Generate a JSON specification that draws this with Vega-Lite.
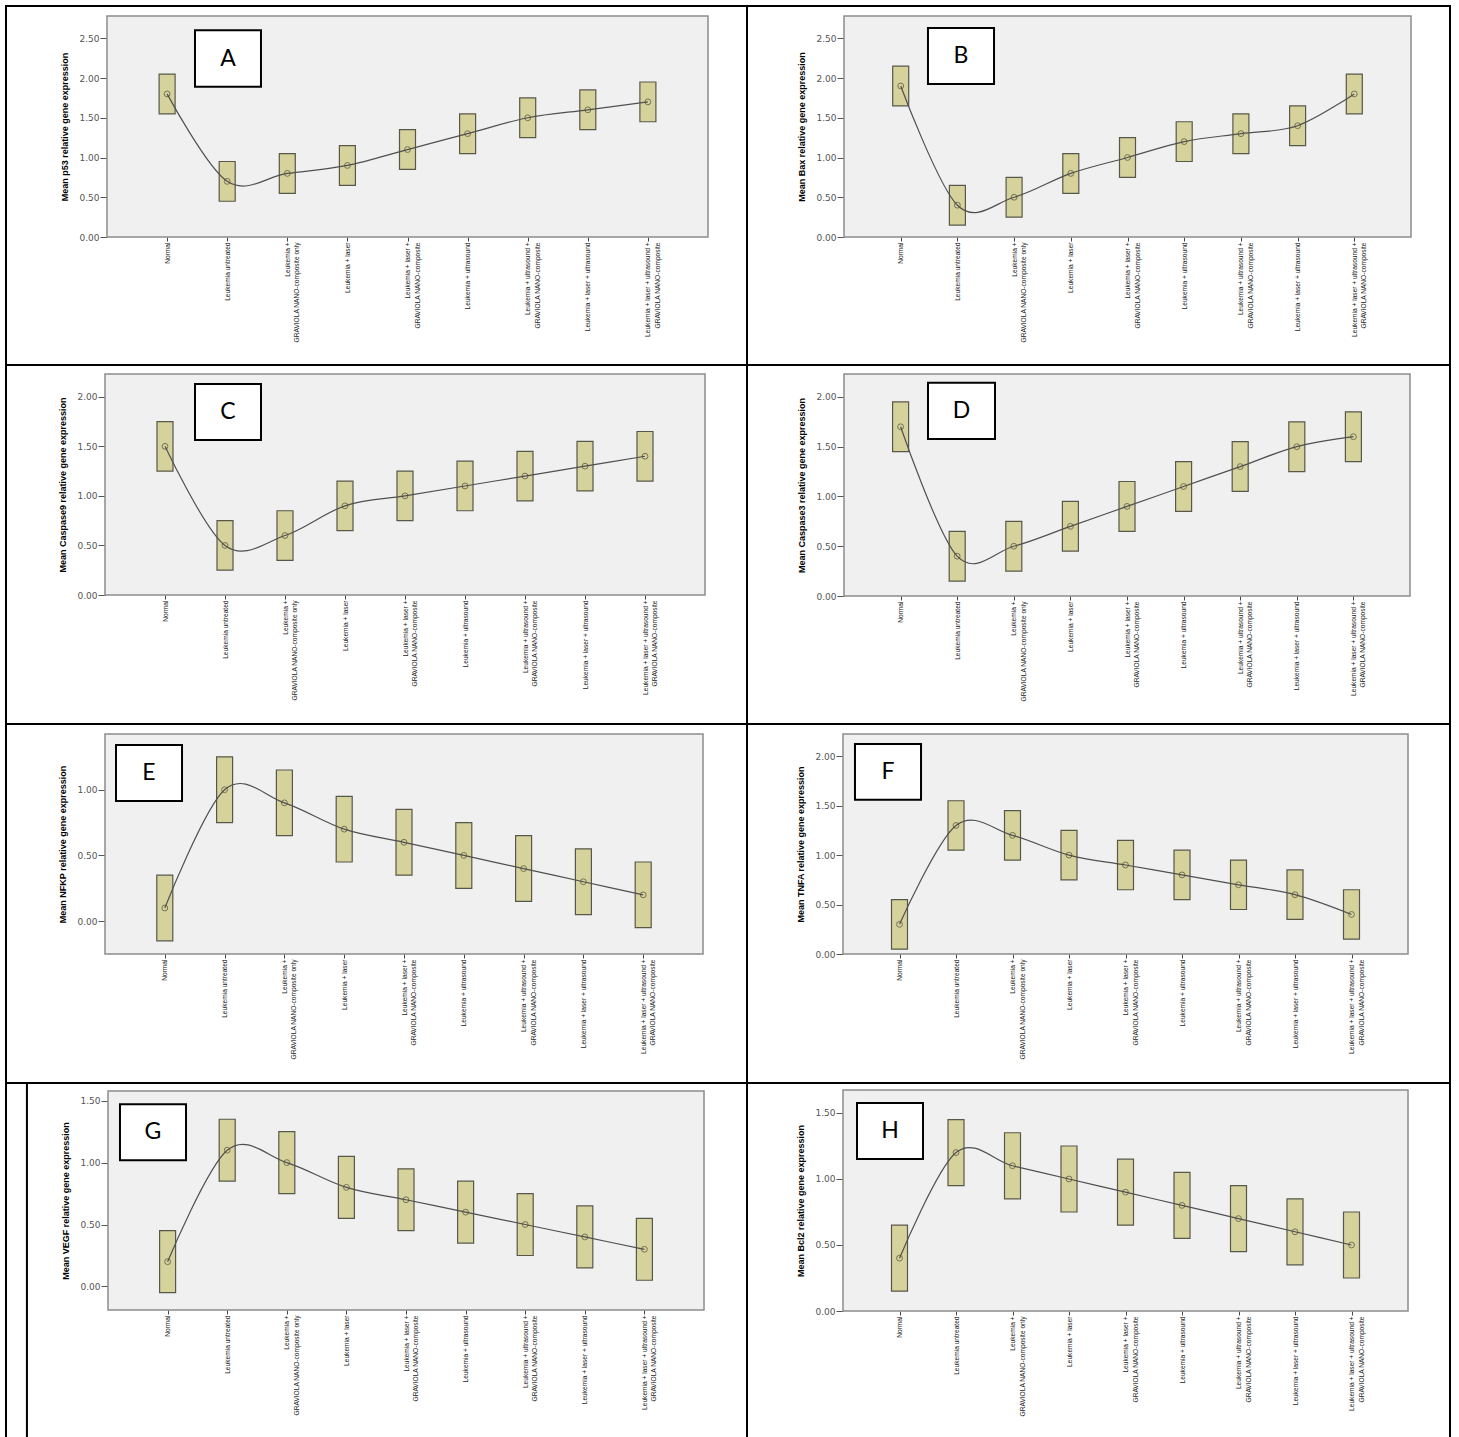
{
  "$schema": "https://vega.github.io/schema/vega-lite/v6.json",
  "padding": {"left": 5, "top": 5, "right": 0, "bottom": 0},
  "background": "white",
  "columns": 2,
  "spacing": 0,
  "bounds": "flush",
  "config": {
    "view": {"stroke": "black", "strokeWidth": 2, "fill": "white"},
    "axisX": {"orient": "bottom", "domain": false, "grid": false, "tickSize": 4, "tickColor": "#444", "labelAngle": -90, "labelAlign": "right", "labelBaseline": "middle", "labelFont": "Liberation Sans", "labelFontSize": 6.6, "labelColor": "#1a1a1a", "labelPadding": 1, "labelLimit": 0, "labelOverlap": false, "labelLineHeight": 9.5},
    "axisY": {"orient": "left", "domain": false, "grid": false, "tickSize": 7, "tickColor": "#555", "labelFont": "DejaVu Sans", "labelFontSize": 9, "labelColor": "#555", "labelPadding": 1, "titleFont": "Liberation Sans", "titleFontSize": 9, "titleFontWeight": "bold", "titleColor": "#000", "titlePadding": 9}
  },
  "datasets": {
    "expr": [
      {"panel": "A", "group": "Normal", "mean": 1.8, "lo": 1.55, "hi": 2.05},
      {"panel": "A", "group": "Leukemia untreated", "mean": 0.7, "lo": 0.45, "hi": 0.95},
      {"panel": "A", "group": "Leukemia + GRAVIOLA NANO-composite only", "mean": 0.8, "lo": 0.55, "hi": 1.05},
      {"panel": "A", "group": "Leukemia + laser", "mean": 0.9, "lo": 0.65, "hi": 1.15},
      {"panel": "A", "group": "Leukemia + laser + GRAVIOLA NANO-composite", "mean": 1.1, "lo": 0.85, "hi": 1.35},
      {"panel": "A", "group": "Leukemia + ultrasound", "mean": 1.3, "lo": 1.05, "hi": 1.55},
      {"panel": "A", "group": "Leukemia + ultrasound + GRAVIOLA NANO-composite", "mean": 1.5, "lo": 1.25, "hi": 1.75},
      {"panel": "A", "group": "Leukemia + laser + ultrasound", "mean": 1.6, "lo": 1.35, "hi": 1.85},
      {"panel": "A", "group": "Leukemia + laser + ultrasound + GRAVIOLA NANO-composite", "mean": 1.7, "lo": 1.45, "hi": 1.95},
      {"panel": "B", "group": "Normal", "mean": 1.9, "lo": 1.65, "hi": 2.15},
      {"panel": "B", "group": "Leukemia untreated", "mean": 0.4, "lo": 0.15, "hi": 0.65},
      {"panel": "B", "group": "Leukemia + GRAVIOLA NANO-composite only", "mean": 0.5, "lo": 0.25, "hi": 0.75},
      {"panel": "B", "group": "Leukemia + laser", "mean": 0.8, "lo": 0.55, "hi": 1.05},
      {"panel": "B", "group": "Leukemia + laser + GRAVIOLA NANO-composite", "mean": 1.0, "lo": 0.75, "hi": 1.25},
      {"panel": "B", "group": "Leukemia + ultrasound", "mean": 1.2, "lo": 0.95, "hi": 1.45},
      {"panel": "B", "group": "Leukemia + ultrasound + GRAVIOLA NANO-composite", "mean": 1.3, "lo": 1.05, "hi": 1.55},
      {"panel": "B", "group": "Leukemia + laser + ultrasound", "mean": 1.4, "lo": 1.15, "hi": 1.65},
      {"panel": "B", "group": "Leukemia + laser + ultrasound + GRAVIOLA NANO-composite", "mean": 1.8, "lo": 1.55, "hi": 2.05},
      {"panel": "C", "group": "Normal", "mean": 1.5, "lo": 1.25, "hi": 1.75},
      {"panel": "C", "group": "Leukemia untreated", "mean": 0.5, "lo": 0.25, "hi": 0.75},
      {"panel": "C", "group": "Leukemia + GRAVIOLA NANO-composite only", "mean": 0.6, "lo": 0.35, "hi": 0.85},
      {"panel": "C", "group": "Leukemia + laser", "mean": 0.9, "lo": 0.65, "hi": 1.15},
      {"panel": "C", "group": "Leukemia + laser + GRAVIOLA NANO-composite", "mean": 1.0, "lo": 0.75, "hi": 1.25},
      {"panel": "C", "group": "Leukemia + ultrasound", "mean": 1.1, "lo": 0.85, "hi": 1.35},
      {"panel": "C", "group": "Leukemia + ultrasound + GRAVIOLA NANO-composite", "mean": 1.2, "lo": 0.95, "hi": 1.45},
      {"panel": "C", "group": "Leukemia + laser + ultrasound", "mean": 1.3, "lo": 1.05, "hi": 1.55},
      {"panel": "C", "group": "Leukemia + laser + ultrasound + GRAVIOLA NANO-composite", "mean": 1.4, "lo": 1.15, "hi": 1.65},
      {"panel": "D", "group": "Normal", "mean": 1.7, "lo": 1.45, "hi": 1.95},
      {"panel": "D", "group": "Leukemia untreated", "mean": 0.4, "lo": 0.15, "hi": 0.65},
      {"panel": "D", "group": "Leukemia + GRAVIOLA NANO-composite only", "mean": 0.5, "lo": 0.25, "hi": 0.75},
      {"panel": "D", "group": "Leukemia + laser", "mean": 0.7, "lo": 0.45, "hi": 0.95},
      {"panel": "D", "group": "Leukemia + laser + GRAVIOLA NANO-composite", "mean": 0.9, "lo": 0.65, "hi": 1.15},
      {"panel": "D", "group": "Leukemia + ultrasound", "mean": 1.1, "lo": 0.85, "hi": 1.35},
      {"panel": "D", "group": "Leukemia + ultrasound + GRAVIOLA NANO-composite", "mean": 1.3, "lo": 1.05, "hi": 1.55},
      {"panel": "D", "group": "Leukemia + laser + ultrasound", "mean": 1.5, "lo": 1.25, "hi": 1.75},
      {"panel": "D", "group": "Leukemia + laser + ultrasound + GRAVIOLA NANO-composite", "mean": 1.6, "lo": 1.35, "hi": 1.85},
      {"panel": "E", "group": "Normal", "mean": 0.1, "lo": -0.15, "hi": 0.35},
      {"panel": "E", "group": "Leukemia untreated", "mean": 1.0, "lo": 0.75, "hi": 1.25},
      {"panel": "E", "group": "Leukemia + GRAVIOLA NANO-composite only", "mean": 0.9, "lo": 0.65, "hi": 1.15},
      {"panel": "E", "group": "Leukemia + laser", "mean": 0.7, "lo": 0.45, "hi": 0.95},
      {"panel": "E", "group": "Leukemia + laser + GRAVIOLA NANO-composite", "mean": 0.6, "lo": 0.35, "hi": 0.85},
      {"panel": "E", "group": "Leukemia + ultrasound", "mean": 0.5, "lo": 0.25, "hi": 0.75},
      {"panel": "E", "group": "Leukemia + ultrasound + GRAVIOLA NANO-composite", "mean": 0.4, "lo": 0.15, "hi": 0.65},
      {"panel": "E", "group": "Leukemia + laser + ultrasound", "mean": 0.3, "lo": 0.05, "hi": 0.55},
      {"panel": "E", "group": "Leukemia + laser + ultrasound + GRAVIOLA NANO-composite", "mean": 0.2, "lo": -0.05, "hi": 0.45},
      {"panel": "F", "group": "Normal", "mean": 0.3, "lo": 0.05, "hi": 0.55},
      {"panel": "F", "group": "Leukemia untreated", "mean": 1.3, "lo": 1.05, "hi": 1.55},
      {"panel": "F", "group": "Leukemia + GRAVIOLA NANO-composite only", "mean": 1.2, "lo": 0.95, "hi": 1.45},
      {"panel": "F", "group": "Leukemia + laser", "mean": 1.0, "lo": 0.75, "hi": 1.25},
      {"panel": "F", "group": "Leukemia + laser + GRAVIOLA NANO-composite", "mean": 0.9, "lo": 0.65, "hi": 1.15},
      {"panel": "F", "group": "Leukemia + ultrasound", "mean": 0.8, "lo": 0.55, "hi": 1.05},
      {"panel": "F", "group": "Leukemia + ultrasound + GRAVIOLA NANO-composite", "mean": 0.7, "lo": 0.45, "hi": 0.95},
      {"panel": "F", "group": "Leukemia + laser + ultrasound", "mean": 0.6, "lo": 0.35, "hi": 0.85},
      {"panel": "F", "group": "Leukemia + laser + ultrasound + GRAVIOLA NANO-composite", "mean": 0.4, "lo": 0.15, "hi": 0.65},
      {"panel": "G", "group": "Normal", "mean": 0.2, "lo": -0.05, "hi": 0.45},
      {"panel": "G", "group": "Leukemia untreated", "mean": 1.1, "lo": 0.85, "hi": 1.35},
      {"panel": "G", "group": "Leukemia + GRAVIOLA NANO-composite only", "mean": 1.0, "lo": 0.75, "hi": 1.25},
      {"panel": "G", "group": "Leukemia + laser", "mean": 0.8, "lo": 0.55, "hi": 1.05},
      {"panel": "G", "group": "Leukemia + laser + GRAVIOLA NANO-composite", "mean": 0.7, "lo": 0.45, "hi": 0.95},
      {"panel": "G", "group": "Leukemia + ultrasound", "mean": 0.6, "lo": 0.35, "hi": 0.85},
      {"panel": "G", "group": "Leukemia + ultrasound + GRAVIOLA NANO-composite", "mean": 0.5, "lo": 0.25, "hi": 0.75},
      {"panel": "G", "group": "Leukemia + laser + ultrasound", "mean": 0.4, "lo": 0.15, "hi": 0.65},
      {"panel": "G", "group": "Leukemia + laser + ultrasound + GRAVIOLA NANO-composite", "mean": 0.3, "lo": 0.05, "hi": 0.55},
      {"panel": "H", "group": "Normal", "mean": 0.4, "lo": 0.15, "hi": 0.65},
      {"panel": "H", "group": "Leukemia untreated", "mean": 1.2, "lo": 0.95, "hi": 1.45},
      {"panel": "H", "group": "Leukemia + GRAVIOLA NANO-composite only", "mean": 1.1, "lo": 0.85, "hi": 1.35},
      {"panel": "H", "group": "Leukemia + laser", "mean": 1.0, "lo": 0.75, "hi": 1.25},
      {"panel": "H", "group": "Leukemia + laser + GRAVIOLA NANO-composite", "mean": 0.9, "lo": 0.65, "hi": 1.15},
      {"panel": "H", "group": "Leukemia + ultrasound", "mean": 0.8, "lo": 0.55, "hi": 1.05},
      {"panel": "H", "group": "Leukemia + ultrasound + GRAVIOLA NANO-composite", "mean": 0.7, "lo": 0.45, "hi": 0.95},
      {"panel": "H", "group": "Leukemia + laser + ultrasound", "mean": 0.6, "lo": 0.35, "hi": 0.85},
      {"panel": "H", "group": "Leukemia + laser + ultrasound + GRAVIOLA NANO-composite", "mean": 0.5, "lo": 0.25, "hi": 0.75}
    ]
  },
  "concat": [
    {
      "width": 741, "height": 359,
      "resolve": {"scale": {"x": "independent", "y": "independent"}},
      "layer": [
        {"data": {"values": [{}]},
         "mark": {"type": "rect", "fill": "#f0f0f0", "stroke": "#8c8c8c", "strokeWidth": 1.5},
         "encoding": {
           "x": {"datum": -1, "type": "quantitative", "scale": {"type": "linear", "domain": [-1, 9], "range": [101, 702], "nice": false, "zero": false}, "axis": null},
           "x2": {"datum": 9},
           "y": {"datum": 0, "type": "quantitative", "scale": {"domain": [0, 2.78], "range": [231, 10], "nice": false, "zero": false}, "axis": null},
           "y2": {"datum": 2.78}}},
        {"data": {"name": "expr"},
         "transform": [{"filter": {"field": "panel", "equal": "A"}}],
         "mark": {"type": "bar", "width": 16, "fill": "#d6d29c", "stroke": "#58584a", "strokeWidth": 1.2},
         "encoding": {
           "x": {"field": "group", "type": "nominal", "sort": ["Normal", "Leukemia untreated", "Leukemia + GRAVIOLA NANO-composite only", "Leukemia + laser", "Leukemia + laser + GRAVIOLA NANO-composite", "Leukemia + ultrasound", "Leukemia + ultrasound + GRAVIOLA NANO-composite", "Leukemia + laser + ultrasound", "Leukemia + laser + ultrasound + GRAVIOLA NANO-composite"], "scale": {"type": "point", "padding": 1, "range": [101, 702]}, "axis": {"orient": "bottom", "title": null, "offset": -128, "labelExpr": "split(replace(datum.label, '+ GRAVIOLA', '+|GRAVIOLA'), '|')"}},
           "y": {"field": "lo", "type": "quantitative", "scale": {"domain": [0, 2.78], "range": [231, 10], "nice": false, "zero": false}, "axis": {"orient": "left", "title": "Mean p53 relative gene expression", "offset": -101, "values": [0, 0.5, 1, 1.5, 2, 2.5], "format": ".2f"}},
           "y2": {"field": "hi"}}},
        {"data": {"name": "expr"},
         "transform": [{"filter": {"field": "panel", "equal": "A"}}],
         "mark": {"type": "line", "interpolate": "cardinal", "color": "#505050", "strokeWidth": 1.2},
         "encoding": {
           "x": {"field": "group", "type": "nominal", "sort": ["Normal", "Leukemia untreated", "Leukemia + GRAVIOLA NANO-composite only", "Leukemia + laser", "Leukemia + laser + GRAVIOLA NANO-composite", "Leukemia + ultrasound", "Leukemia + ultrasound + GRAVIOLA NANO-composite", "Leukemia + laser + ultrasound", "Leukemia + laser + ultrasound + GRAVIOLA NANO-composite"], "scale": {"type": "point", "padding": 1, "range": [101, 702]}, "axis": null},
           "y": {"field": "mean", "type": "quantitative", "scale": {"domain": [0, 2.78], "range": [231, 10], "nice": false, "zero": false}, "axis": null}}},
        {"data": {"name": "expr"},
         "transform": [{"filter": {"field": "panel", "equal": "A"}}],
         "mark": {"type": "point", "shape": "circle", "filled": false, "size": 34, "color": "#4a4a3a", "strokeWidth": 1},
         "encoding": {
           "x": {"field": "group", "type": "nominal", "sort": ["Normal", "Leukemia untreated", "Leukemia + GRAVIOLA NANO-composite only", "Leukemia + laser", "Leukemia + laser + GRAVIOLA NANO-composite", "Leukemia + ultrasound", "Leukemia + ultrasound + GRAVIOLA NANO-composite", "Leukemia + laser + ultrasound", "Leukemia + laser + ultrasound + GRAVIOLA NANO-composite"], "scale": {"type": "point", "padding": 1, "range": [101, 702]}, "axis": null},
           "y": {"field": "mean", "type": "quantitative", "scale": {"domain": [0, 2.78], "range": [231, 10], "nice": false, "zero": false}, "axis": null}}},
        {"data": {"values": [{"letter": "A"}]},
         "mark": {"type": "rect", "fill": "white", "stroke": "black", "strokeWidth": 2},
         "encoding": {
           "x": {"datum": 0.464, "type": "quantitative", "scale": {"type": "linear", "domain": [-1, 9], "range": [101, 702], "nice": false, "zero": false}, "axis": null},
           "x2": {"datum": 1.562},
           "y": {"datum": 2.60, "type": "quantitative", "scale": {"domain": [0, 2.78], "range": [231, 10], "nice": false, "zero": false}, "axis": null},
           "y2": {"datum": 1.89}}},
        {"data": {"values": [{"letter": "A"}]},
         "mark": {"type": "text", "font": "Lato", "fontSize": 23, "color": "black", "align": "center", "baseline": "middle"},
         "encoding": {
           "x": {"datum": 1.013, "type": "quantitative", "scale": {"type": "linear", "domain": [-1, 9], "range": [101, 702], "nice": false, "zero": false}, "axis": null},
           "y": {"datum": 2.245, "type": "quantitative", "scale": {"domain": [0, 2.78], "range": [231, 10], "nice": false, "zero": false}, "axis": null},
           "text": {"field": "letter"}}}
      ]
    },
    {
      "width": 703, "height": 359,
      "resolve": {"scale": {"x": "independent", "y": "independent"}},
      "layer": [
        {"data": {"values": [{}]},
         "mark": {"type": "rect", "fill": "#f0f0f0", "stroke": "#8c8c8c", "strokeWidth": 1.5},
         "encoding": {
           "x": {"datum": -1, "type": "quantitative", "scale": {"type": "linear", "domain": [-1, 9], "range": [97, 664], "nice": false, "zero": false}, "axis": null},
           "x2": {"datum": 9},
           "y": {"datum": 0, "type": "quantitative", "scale": {"domain": [0, 2.78], "range": [231, 10], "nice": false, "zero": false}, "axis": null},
           "y2": {"datum": 2.78}}},
        {"data": {"name": "expr"},
         "transform": [{"filter": {"field": "panel", "equal": "B"}}],
         "mark": {"type": "bar", "width": 16, "fill": "#d6d29c", "stroke": "#58584a", "strokeWidth": 1.2},
         "encoding": {
           "x": {"field": "group", "type": "nominal", "sort": ["Normal", "Leukemia untreated", "Leukemia + GRAVIOLA NANO-composite only", "Leukemia + laser", "Leukemia + laser + GRAVIOLA NANO-composite", "Leukemia + ultrasound", "Leukemia + ultrasound + GRAVIOLA NANO-composite", "Leukemia + laser + ultrasound", "Leukemia + laser + ultrasound + GRAVIOLA NANO-composite"], "scale": {"type": "point", "padding": 1, "range": [97, 664]}, "axis": {"orient": "bottom", "title": null, "offset": -128, "labelExpr": "split(replace(datum.label, '+ GRAVIOLA', '+|GRAVIOLA'), '|')"}},
           "y": {"field": "lo", "type": "quantitative", "scale": {"domain": [0, 2.78], "range": [231, 10], "nice": false, "zero": false}, "axis": {"orient": "left", "title": "Mean Bax relative gene expression", "offset": -97, "values": [0, 0.5, 1, 1.5, 2, 2.5], "format": ".2f"}},
           "y2": {"field": "hi"}}},
        {"data": {"name": "expr"},
         "transform": [{"filter": {"field": "panel", "equal": "B"}}],
         "mark": {"type": "line", "interpolate": "cardinal", "color": "#505050", "strokeWidth": 1.2},
         "encoding": {
           "x": {"field": "group", "type": "nominal", "sort": ["Normal", "Leukemia untreated", "Leukemia + GRAVIOLA NANO-composite only", "Leukemia + laser", "Leukemia + laser + GRAVIOLA NANO-composite", "Leukemia + ultrasound", "Leukemia + ultrasound + GRAVIOLA NANO-composite", "Leukemia + laser + ultrasound", "Leukemia + laser + ultrasound + GRAVIOLA NANO-composite"], "scale": {"type": "point", "padding": 1, "range": [97, 664]}, "axis": null},
           "y": {"field": "mean", "type": "quantitative", "scale": {"domain": [0, 2.78], "range": [231, 10], "nice": false, "zero": false}, "axis": null}}},
        {"data": {"name": "expr"},
         "transform": [{"filter": {"field": "panel", "equal": "B"}}],
         "mark": {"type": "point", "shape": "circle", "filled": false, "size": 34, "color": "#4a4a3a", "strokeWidth": 1},
         "encoding": {
           "x": {"field": "group", "type": "nominal", "sort": ["Normal", "Leukemia untreated", "Leukemia + GRAVIOLA NANO-composite only", "Leukemia + laser", "Leukemia + laser + GRAVIOLA NANO-composite", "Leukemia + ultrasound", "Leukemia + ultrasound + GRAVIOLA NANO-composite", "Leukemia + laser + ultrasound", "Leukemia + laser + ultrasound + GRAVIOLA NANO-composite"], "scale": {"type": "point", "padding": 1, "range": [97, 664]}, "axis": null},
           "y": {"field": "mean", "type": "quantitative", "scale": {"domain": [0, 2.78], "range": [231, 10], "nice": false, "zero": false}, "axis": null}}},
        {"data": {"values": [{"letter": "B"}]},
         "mark": {"type": "rect", "fill": "white", "stroke": "black", "strokeWidth": 2},
         "encoding": {
           "x": {"datum": 0.481, "type": "quantitative", "scale": {"type": "linear", "domain": [-1, 9], "range": [97, 664], "nice": false, "zero": false}, "axis": null},
           "x2": {"datum": 1.646},
           "y": {"datum": 2.629, "type": "quantitative", "scale": {"domain": [0, 2.78], "range": [231, 10], "nice": false, "zero": false}, "axis": null},
           "y2": {"datum": 1.925}}},
        {"data": {"values": [{"letter": "B"}]},
         "mark": {"type": "text", "font": "Lato", "fontSize": 23, "color": "black", "align": "center", "baseline": "middle"},
         "encoding": {
           "x": {"datum": 1.063, "type": "quantitative", "scale": {"type": "linear", "domain": [-1, 9], "range": [97, 664], "nice": false, "zero": false}, "axis": null},
           "y": {"datum": 2.277, "type": "quantitative", "scale": {"domain": [0, 2.78], "range": [231, 10], "nice": false, "zero": false}, "axis": null},
           "text": {"field": "letter"}}}
      ]
    },
    {
      "width": 741, "height": 359,
      "resolve": {"scale": {"x": "independent", "y": "independent"}},
      "layer": [
        {"data": {"values": [{}]},
         "mark": {"type": "rect", "fill": "#f0f0f0", "stroke": "#8c8c8c", "strokeWidth": 1.5},
         "encoding": {
           "x": {"datum": -1, "type": "quantitative", "scale": {"type": "linear", "domain": [-1, 9], "range": [99, 699], "nice": false, "zero": false}, "axis": null},
           "x2": {"datum": 9},
           "y": {"datum": 0, "type": "quantitative", "scale": {"domain": [0, 2.23], "range": [230, 9], "nice": false, "zero": false}, "axis": null},
           "y2": {"datum": 2.23}}},
        {"data": {"name": "expr"},
         "transform": [{"filter": {"field": "panel", "equal": "C"}}],
         "mark": {"type": "bar", "width": 16, "fill": "#d6d29c", "stroke": "#58584a", "strokeWidth": 1.2},
         "encoding": {
           "x": {"field": "group", "type": "nominal", "sort": ["Normal", "Leukemia untreated", "Leukemia + GRAVIOLA NANO-composite only", "Leukemia + laser", "Leukemia + laser + GRAVIOLA NANO-composite", "Leukemia + ultrasound", "Leukemia + ultrasound + GRAVIOLA NANO-composite", "Leukemia + laser + ultrasound", "Leukemia + laser + ultrasound + GRAVIOLA NANO-composite"], "scale": {"type": "point", "padding": 1, "range": [99, 699]}, "axis": {"orient": "bottom", "title": null, "offset": -129, "labelExpr": "split(replace(datum.label, '+ GRAVIOLA', '+|GRAVIOLA'), '|')"}},
           "y": {"field": "lo", "type": "quantitative", "scale": {"domain": [0, 2.23], "range": [230, 9], "nice": false, "zero": false}, "axis": {"orient": "left", "title": "Mean Caspase9 relative gene expression", "offset": -99, "values": [0, 0.5, 1, 1.5, 2], "format": ".2f"}},
           "y2": {"field": "hi"}}},
        {"data": {"name": "expr"},
         "transform": [{"filter": {"field": "panel", "equal": "C"}}],
         "mark": {"type": "line", "interpolate": "cardinal", "color": "#505050", "strokeWidth": 1.2},
         "encoding": {
           "x": {"field": "group", "type": "nominal", "sort": ["Normal", "Leukemia untreated", "Leukemia + GRAVIOLA NANO-composite only", "Leukemia + laser", "Leukemia + laser + GRAVIOLA NANO-composite", "Leukemia + ultrasound", "Leukemia + ultrasound + GRAVIOLA NANO-composite", "Leukemia + laser + ultrasound", "Leukemia + laser + ultrasound + GRAVIOLA NANO-composite"], "scale": {"type": "point", "padding": 1, "range": [99, 699]}, "axis": null},
           "y": {"field": "mean", "type": "quantitative", "scale": {"domain": [0, 2.23], "range": [230, 9], "nice": false, "zero": false}, "axis": null}}},
        {"data": {"name": "expr"},
         "transform": [{"filter": {"field": "panel", "equal": "C"}}],
         "mark": {"type": "point", "shape": "circle", "filled": false, "size": 34, "color": "#4a4a3a", "strokeWidth": 1},
         "encoding": {
           "x": {"field": "group", "type": "nominal", "sort": ["Normal", "Leukemia untreated", "Leukemia + GRAVIOLA NANO-composite only", "Leukemia + laser", "Leukemia + laser + GRAVIOLA NANO-composite", "Leukemia + ultrasound", "Leukemia + ultrasound + GRAVIOLA NANO-composite", "Leukemia + laser + ultrasound", "Leukemia + laser + ultrasound + GRAVIOLA NANO-composite"], "scale": {"type": "point", "padding": 1, "range": [99, 699]}, "axis": null},
           "y": {"field": "mean", "type": "quantitative", "scale": {"domain": [0, 2.23], "range": [230, 9], "nice": false, "zero": false}, "axis": null}}},
        {"data": {"values": [{"letter": "C"}]},
         "mark": {"type": "rect", "fill": "white", "stroke": "black", "strokeWidth": 2},
         "encoding": {
           "x": {"datum": 0.5, "type": "quantitative", "scale": {"type": "linear", "domain": [-1, 9], "range": [99, 699], "nice": false, "zero": false}, "axis": null},
           "x2": {"datum": 1.6},
           "y": {"datum": 2.129, "type": "quantitative", "scale": {"domain": [0, 2.23], "range": [230, 9], "nice": false, "zero": false}, "axis": null},
           "y2": {"datum": 1.564}}},
        {"data": {"values": [{"letter": "C"}]},
         "mark": {"type": "text", "font": "Lato", "fontSize": 23, "color": "black", "align": "center", "baseline": "middle"},
         "encoding": {
           "x": {"datum": 1.05, "type": "quantitative", "scale": {"type": "linear", "domain": [-1, 9], "range": [99, 699], "nice": false, "zero": false}, "axis": null},
           "y": {"datum": 1.846, "type": "quantitative", "scale": {"domain": [0, 2.23], "range": [230, 9], "nice": false, "zero": false}, "axis": null},
           "text": {"field": "letter"}}}
      ]
    },
    {
      "width": 703, "height": 359,
      "resolve": {"scale": {"x": "independent", "y": "independent"}},
      "layer": [
        {"data": {"values": [{}]},
         "mark": {"type": "rect", "fill": "#f0f0f0", "stroke": "#8c8c8c", "strokeWidth": 1.5},
         "encoding": {
           "x": {"datum": -1, "type": "quantitative", "scale": {"type": "linear", "domain": [-1, 9], "range": [97, 663], "nice": false, "zero": false}, "axis": null},
           "x2": {"datum": 9},
           "y": {"datum": 0, "type": "quantitative", "scale": {"domain": [0, 2.23], "range": [231, 9], "nice": false, "zero": false}, "axis": null},
           "y2": {"datum": 2.23}}},
        {"data": {"name": "expr"},
         "transform": [{"filter": {"field": "panel", "equal": "D"}}],
         "mark": {"type": "bar", "width": 16, "fill": "#d6d29c", "stroke": "#58584a", "strokeWidth": 1.2},
         "encoding": {
           "x": {"field": "group", "type": "nominal", "sort": ["Normal", "Leukemia untreated", "Leukemia + GRAVIOLA NANO-composite only", "Leukemia + laser", "Leukemia + laser + GRAVIOLA NANO-composite", "Leukemia + ultrasound", "Leukemia + ultrasound + GRAVIOLA NANO-composite", "Leukemia + laser + ultrasound", "Leukemia + laser + ultrasound + GRAVIOLA NANO-composite"], "scale": {"type": "point", "padding": 1, "range": [97, 663]}, "axis": {"orient": "bottom", "title": null, "offset": -128, "labelExpr": "split(replace(datum.label, '+ GRAVIOLA', '+|GRAVIOLA'), '|')"}},
           "y": {"field": "lo", "type": "quantitative", "scale": {"domain": [0, 2.23], "range": [231, 9], "nice": false, "zero": false}, "axis": {"orient": "left", "title": "Mean Caspase3 relative gene expression", "offset": -97, "values": [0, 0.5, 1, 1.5, 2], "format": ".2f"}},
           "y2": {"field": "hi"}}},
        {"data": {"name": "expr"},
         "transform": [{"filter": {"field": "panel", "equal": "D"}}],
         "mark": {"type": "line", "interpolate": "cardinal", "color": "#505050", "strokeWidth": 1.2},
         "encoding": {
           "x": {"field": "group", "type": "nominal", "sort": ["Normal", "Leukemia untreated", "Leukemia + GRAVIOLA NANO-composite only", "Leukemia + laser", "Leukemia + laser + GRAVIOLA NANO-composite", "Leukemia + ultrasound", "Leukemia + ultrasound + GRAVIOLA NANO-composite", "Leukemia + laser + ultrasound", "Leukemia + laser + ultrasound + GRAVIOLA NANO-composite"], "scale": {"type": "point", "padding": 1, "range": [97, 663]}, "axis": null},
           "y": {"field": "mean", "type": "quantitative", "scale": {"domain": [0, 2.23], "range": [231, 9], "nice": false, "zero": false}, "axis": null}}},
        {"data": {"name": "expr"},
         "transform": [{"filter": {"field": "panel", "equal": "D"}}],
         "mark": {"type": "point", "shape": "circle", "filled": false, "size": 34, "color": "#4a4a3a", "strokeWidth": 1},
         "encoding": {
           "x": {"field": "group", "type": "nominal", "sort": ["Normal", "Leukemia untreated", "Leukemia + GRAVIOLA NANO-composite only", "Leukemia + laser", "Leukemia + laser + GRAVIOLA NANO-composite", "Leukemia + ultrasound", "Leukemia + ultrasound + GRAVIOLA NANO-composite", "Leukemia + laser + ultrasound", "Leukemia + laser + ultrasound + GRAVIOLA NANO-composite"], "scale": {"type": "point", "padding": 1, "range": [97, 663]}, "axis": null},
           "y": {"field": "mean", "type": "quantitative", "scale": {"domain": [0, 2.23], "range": [231, 9], "nice": false, "zero": false}, "axis": null}}},
        {"data": {"values": [{"letter": "D"}]},
         "mark": {"type": "rect", "fill": "white", "stroke": "black", "strokeWidth": 2},
         "encoding": {
           "x": {"datum": 0.484, "type": "quantitative", "scale": {"type": "linear", "domain": [-1, 9], "range": [97, 663], "nice": false, "zero": false}, "axis": null},
           "x2": {"datum": 1.668},
           "y": {"datum": 2.141, "type": "quantitative", "scale": {"domain": [0, 2.23], "range": [231, 9], "nice": false, "zero": false}, "axis": null},
           "y2": {"datum": 1.578}}},
        {"data": {"values": [{"letter": "D"}]},
         "mark": {"type": "text", "font": "Lato", "fontSize": 23, "color": "black", "align": "center", "baseline": "middle"},
         "encoding": {
           "x": {"datum": 1.076, "type": "quantitative", "scale": {"type": "linear", "domain": [-1, 9], "range": [97, 663], "nice": false, "zero": false}, "axis": null},
           "y": {"datum": 1.86, "type": "quantitative", "scale": {"domain": [0, 2.23], "range": [231, 9], "nice": false, "zero": false}, "axis": null},
           "text": {"field": "letter"}}}
      ]
    },
    {
      "width": 741, "height": 359,
      "resolve": {"scale": {"x": "independent", "y": "independent"}},
      "layer": [
        {"data": {"values": [{}]},
         "mark": {"type": "rect", "fill": "#f0f0f0", "stroke": "#8c8c8c", "strokeWidth": 1.5},
         "encoding": {
           "x": {"datum": -1, "type": "quantitative", "scale": {"type": "linear", "domain": [-1, 9], "range": [99, 697], "nice": false, "zero": false}, "axis": null},
           "x2": {"datum": 9},
           "y": {"datum": -0.25, "type": "quantitative", "scale": {"domain": [-0.25, 1.424], "range": [230, 10], "nice": false, "zero": false}, "axis": null},
           "y2": {"datum": 1.424}}},
        {"data": {"name": "expr"},
         "transform": [{"filter": {"field": "panel", "equal": "E"}}],
         "mark": {"type": "bar", "width": 16, "fill": "#d6d29c", "stroke": "#58584a", "strokeWidth": 1.2},
         "encoding": {
           "x": {"field": "group", "type": "nominal", "sort": ["Normal", "Leukemia untreated", "Leukemia + GRAVIOLA NANO-composite only", "Leukemia + laser", "Leukemia + laser + GRAVIOLA NANO-composite", "Leukemia + ultrasound", "Leukemia + ultrasound + GRAVIOLA NANO-composite", "Leukemia + laser + ultrasound", "Leukemia + laser + ultrasound + GRAVIOLA NANO-composite"], "scale": {"type": "point", "padding": 1, "range": [99, 697]}, "axis": {"orient": "bottom", "title": null, "offset": -129, "labelExpr": "split(replace(datum.label, '+ GRAVIOLA', '+|GRAVIOLA'), '|')"}},
           "y": {"field": "lo", "type": "quantitative", "scale": {"domain": [-0.25, 1.424], "range": [230, 10], "nice": false, "zero": false}, "axis": {"orient": "left", "title": "Mean NFKP relative gene expression", "offset": -99, "values": [0, 0.5, 1], "format": ".2f"}},
           "y2": {"field": "hi"}}},
        {"data": {"name": "expr"},
         "transform": [{"filter": {"field": "panel", "equal": "E"}}],
         "mark": {"type": "line", "interpolate": "cardinal", "color": "#505050", "strokeWidth": 1.2},
         "encoding": {
           "x": {"field": "group", "type": "nominal", "sort": ["Normal", "Leukemia untreated", "Leukemia + GRAVIOLA NANO-composite only", "Leukemia + laser", "Leukemia + laser + GRAVIOLA NANO-composite", "Leukemia + ultrasound", "Leukemia + ultrasound + GRAVIOLA NANO-composite", "Leukemia + laser + ultrasound", "Leukemia + laser + ultrasound + GRAVIOLA NANO-composite"], "scale": {"type": "point", "padding": 1, "range": [99, 697]}, "axis": null},
           "y": {"field": "mean", "type": "quantitative", "scale": {"domain": [-0.25, 1.424], "range": [230, 10], "nice": false, "zero": false}, "axis": null}}},
        {"data": {"name": "expr"},
         "transform": [{"filter": {"field": "panel", "equal": "E"}}],
         "mark": {"type": "point", "shape": "circle", "filled": false, "size": 34, "color": "#4a4a3a", "strokeWidth": 1},
         "encoding": {
           "x": {"field": "group", "type": "nominal", "sort": ["Normal", "Leukemia untreated", "Leukemia + GRAVIOLA NANO-composite only", "Leukemia + laser", "Leukemia + laser + GRAVIOLA NANO-composite", "Leukemia + ultrasound", "Leukemia + ultrasound + GRAVIOLA NANO-composite", "Leukemia + laser + ultrasound", "Leukemia + laser + ultrasound + GRAVIOLA NANO-composite"], "scale": {"type": "point", "padding": 1, "range": [99, 697]}, "axis": null},
           "y": {"field": "mean", "type": "quantitative", "scale": {"domain": [-0.25, 1.424], "range": [230, 10], "nice": false, "zero": false}, "axis": null}}},
        {"data": {"values": [{"letter": "E"}]},
         "mark": {"type": "rect", "fill": "white", "stroke": "black", "strokeWidth": 2},
         "encoding": {
           "x": {"datum": -0.816, "type": "quantitative", "scale": {"type": "linear", "domain": [-1, 9], "range": [99, 697], "nice": false, "zero": false}, "axis": null},
           "x2": {"datum": 0.288},
           "y": {"datum": 1.34, "type": "quantitative", "scale": {"domain": [-0.25, 1.424], "range": [230, 10], "nice": false, "zero": false}, "axis": null},
           "y2": {"datum": 0.914}}},
        {"data": {"values": [{"letter": "E"}]},
         "mark": {"type": "text", "font": "Lato", "fontSize": 23, "color": "black", "align": "center", "baseline": "middle"},
         "encoding": {
           "x": {"datum": -0.264, "type": "quantitative", "scale": {"type": "linear", "domain": [-1, 9], "range": [99, 697], "nice": false, "zero": false}, "axis": null},
           "y": {"datum": 1.127, "type": "quantitative", "scale": {"domain": [-0.25, 1.424], "range": [230, 10], "nice": false, "zero": false}, "axis": null},
           "text": {"field": "letter"}}}
      ]
    },
    {
      "width": 703, "height": 359,
      "resolve": {"scale": {"x": "independent", "y": "independent"}},
      "layer": [
        {"data": {"values": [{}]},
         "mark": {"type": "rect", "fill": "#f0f0f0", "stroke": "#8c8c8c", "strokeWidth": 1.5},
         "encoding": {
           "x": {"datum": -1, "type": "quantitative", "scale": {"type": "linear", "domain": [-1, 9], "range": [96, 661], "nice": false, "zero": false}, "axis": null},
           "x2": {"datum": 9},
           "y": {"datum": 0, "type": "quantitative", "scale": {"domain": [0, 2.225], "range": [230, 10], "nice": false, "zero": false}, "axis": null},
           "y2": {"datum": 2.225}}},
        {"data": {"name": "expr"},
         "transform": [{"filter": {"field": "panel", "equal": "F"}}],
         "mark": {"type": "bar", "width": 16, "fill": "#d6d29c", "stroke": "#58584a", "strokeWidth": 1.2},
         "encoding": {
           "x": {"field": "group", "type": "nominal", "sort": ["Normal", "Leukemia untreated", "Leukemia + GRAVIOLA NANO-composite only", "Leukemia + laser", "Leukemia + laser + GRAVIOLA NANO-composite", "Leukemia + ultrasound", "Leukemia + ultrasound + GRAVIOLA NANO-composite", "Leukemia + laser + ultrasound", "Leukemia + laser + ultrasound + GRAVIOLA NANO-composite"], "scale": {"type": "point", "padding": 1, "range": [96, 661]}, "axis": {"orient": "bottom", "title": null, "offset": -129, "labelExpr": "split(replace(datum.label, '+ GRAVIOLA', '+|GRAVIOLA'), '|')"}},
           "y": {"field": "lo", "type": "quantitative", "scale": {"domain": [0, 2.225], "range": [230, 10], "nice": false, "zero": false}, "axis": {"orient": "left", "title": "Mean TNFA relative gene expression", "offset": -96, "values": [0, 0.5, 1, 1.5, 2], "format": ".2f"}},
           "y2": {"field": "hi"}}},
        {"data": {"name": "expr"},
         "transform": [{"filter": {"field": "panel", "equal": "F"}}],
         "mark": {"type": "line", "interpolate": "cardinal", "color": "#505050", "strokeWidth": 1.2},
         "encoding": {
           "x": {"field": "group", "type": "nominal", "sort": ["Normal", "Leukemia untreated", "Leukemia + GRAVIOLA NANO-composite only", "Leukemia + laser", "Leukemia + laser + GRAVIOLA NANO-composite", "Leukemia + ultrasound", "Leukemia + ultrasound + GRAVIOLA NANO-composite", "Leukemia + laser + ultrasound", "Leukemia + laser + ultrasound + GRAVIOLA NANO-composite"], "scale": {"type": "point", "padding": 1, "range": [96, 661]}, "axis": null},
           "y": {"field": "mean", "type": "quantitative", "scale": {"domain": [0, 2.225], "range": [230, 10], "nice": false, "zero": false}, "axis": null}}},
        {"data": {"name": "expr"},
         "transform": [{"filter": {"field": "panel", "equal": "F"}}],
         "mark": {"type": "point", "shape": "circle", "filled": false, "size": 34, "color": "#4a4a3a", "strokeWidth": 1},
         "encoding": {
           "x": {"field": "group", "type": "nominal", "sort": ["Normal", "Leukemia untreated", "Leukemia + GRAVIOLA NANO-composite only", "Leukemia + laser", "Leukemia + laser + GRAVIOLA NANO-composite", "Leukemia + ultrasound", "Leukemia + ultrasound + GRAVIOLA NANO-composite", "Leukemia + laser + ultrasound", "Leukemia + laser + ultrasound + GRAVIOLA NANO-composite"], "scale": {"type": "point", "padding": 1, "range": [96, 661]}, "axis": null},
           "y": {"field": "mean", "type": "quantitative", "scale": {"domain": [0, 2.225], "range": [230, 10], "nice": false, "zero": false}, "axis": null}}},
        {"data": {"values": [{"letter": "F"}]},
         "mark": {"type": "rect", "fill": "white", "stroke": "black", "strokeWidth": 2},
         "encoding": {
           "x": {"datum": -0.788, "type": "quantitative", "scale": {"type": "linear", "domain": [-1, 9], "range": [96, 661], "nice": false, "zero": false}, "axis": null},
           "x2": {"datum": 0.381},
           "y": {"datum": 2.124, "type": "quantitative", "scale": {"domain": [0, 2.225], "range": [230, 10], "nice": false, "zero": false}, "axis": null},
           "y2": {"datum": 1.559}}},
        {"data": {"values": [{"letter": "F"}]},
         "mark": {"type": "text", "font": "Lato", "fontSize": 23, "color": "black", "align": "center", "baseline": "middle"},
         "encoding": {
           "x": {"datum": -0.2035, "type": "quantitative", "scale": {"type": "linear", "domain": [-1, 9], "range": [96, 661], "nice": false, "zero": false}, "axis": null},
           "y": {"datum": 1.84, "type": "quantitative", "scale": {"domain": [0, 2.225], "range": [230, 10], "nice": false, "zero": false}, "axis": null},
           "text": {"field": "letter"}}}
      ]
    },
    {
      "width": 741, "height": 359,
      "resolve": {"scale": {"x": "independent", "y": "independent"}},
      "layer": [
        {"data": {"values": [{}]},
         "mark": {"type": "rect", "fill": "#f0f0f0", "stroke": "#8c8c8c", "strokeWidth": 1.5},
         "encoding": {
           "x": {"datum": -1, "type": "quantitative", "scale": {"type": "linear", "domain": [-1, 9], "range": [102, 698], "nice": false, "zero": false}, "axis": null},
           "x2": {"datum": 9},
           "y": {"datum": -0.19, "type": "quantitative", "scale": {"domain": [-0.19, 1.578], "range": [227, 8], "nice": false, "zero": false}, "axis": null},
           "y2": {"datum": 1.578}}},
        {"data": {"values": [{}]},
         "mark": {"type": "rule", "color": "black", "strokeWidth": 2},
         "encoding": {
           "x": {"datum": -2.36, "type": "quantitative", "scale": {"type": "linear", "domain": [-1, 9], "range": [102, 698], "nice": false, "zero": false}, "axis": null},
           "y": {"datum": 1.642, "type": "quantitative", "scale": {"domain": [-0.19, 1.578], "range": [227, 8], "nice": false, "zero": false}, "axis": null},
           "y2": {"datum": -1.26}}},
        {"data": {"name": "expr"},
         "transform": [{"filter": {"field": "panel", "equal": "G"}}],
         "mark": {"type": "bar", "width": 16, "fill": "#d6d29c", "stroke": "#58584a", "strokeWidth": 1.2},
         "encoding": {
           "x": {"field": "group", "type": "nominal", "sort": ["Normal", "Leukemia untreated", "Leukemia + GRAVIOLA NANO-composite only", "Leukemia + laser", "Leukemia + laser + GRAVIOLA NANO-composite", "Leukemia + ultrasound", "Leukemia + ultrasound + GRAVIOLA NANO-composite", "Leukemia + laser + ultrasound", "Leukemia + laser + ultrasound + GRAVIOLA NANO-composite"], "scale": {"type": "point", "padding": 1, "range": [102, 698]}, "axis": {"orient": "bottom", "title": null, "offset": -132, "labelExpr": "split(replace(datum.label, '+ GRAVIOLA', '+|GRAVIOLA'), '|')"}},
           "y": {"field": "lo", "type": "quantitative", "scale": {"domain": [-0.19, 1.578], "range": [227, 8], "nice": false, "zero": false}, "axis": {"orient": "left", "title": "Mean VEGF relative gene expression", "offset": -102, "values": [0, 0.5, 1, 1.5], "format": ".2f"}},
           "y2": {"field": "hi"}}},
        {"data": {"name": "expr"},
         "transform": [{"filter": {"field": "panel", "equal": "G"}}],
         "mark": {"type": "line", "interpolate": "cardinal", "color": "#505050", "strokeWidth": 1.2},
         "encoding": {
           "x": {"field": "group", "type": "nominal", "sort": ["Normal", "Leukemia untreated", "Leukemia + GRAVIOLA NANO-composite only", "Leukemia + laser", "Leukemia + laser + GRAVIOLA NANO-composite", "Leukemia + ultrasound", "Leukemia + ultrasound + GRAVIOLA NANO-composite", "Leukemia + laser + ultrasound", "Leukemia + laser + ultrasound + GRAVIOLA NANO-composite"], "scale": {"type": "point", "padding": 1, "range": [102, 698]}, "axis": null},
           "y": {"field": "mean", "type": "quantitative", "scale": {"domain": [-0.19, 1.578], "range": [227, 8], "nice": false, "zero": false}, "axis": null}}},
        {"data": {"name": "expr"},
         "transform": [{"filter": {"field": "panel", "equal": "G"}}],
         "mark": {"type": "point", "shape": "circle", "filled": false, "size": 34, "color": "#4a4a3a", "strokeWidth": 1},
         "encoding": {
           "x": {"field": "group", "type": "nominal", "sort": ["Normal", "Leukemia untreated", "Leukemia + GRAVIOLA NANO-composite only", "Leukemia + laser", "Leukemia + laser + GRAVIOLA NANO-composite", "Leukemia + ultrasound", "Leukemia + ultrasound + GRAVIOLA NANO-composite", "Leukemia + laser + ultrasound", "Leukemia + laser + ultrasound + GRAVIOLA NANO-composite"], "scale": {"type": "point", "padding": 1, "range": [102, 698]}, "axis": null},
           "y": {"field": "mean", "type": "quantitative", "scale": {"domain": [-0.19, 1.578], "range": [227, 8], "nice": false, "zero": false}, "axis": null}}},
        {"data": {"values": [{"letter": "G"}]},
         "mark": {"type": "rect", "fill": "white", "stroke": "black", "strokeWidth": 2},
         "encoding": {
           "x": {"datum": -0.799, "type": "quantitative", "scale": {"type": "linear", "domain": [-1, 9], "range": [102, 698], "nice": false, "zero": false}, "axis": null},
           "x2": {"datum": 0.309},
           "y": {"datum": 1.471, "type": "quantitative", "scale": {"domain": [-0.19, 1.578], "range": [227, 8], "nice": false, "zero": false}, "axis": null},
           "y2": {"datum": 1.019}}},
        {"data": {"values": [{"letter": "G"}]},
         "mark": {"type": "text", "font": "Lato", "fontSize": 23, "color": "black", "align": "center", "baseline": "middle"},
         "encoding": {
           "x": {"datum": -0.245, "type": "quantitative", "scale": {"type": "linear", "domain": [-1, 9], "range": [102, 698], "nice": false, "zero": false}, "axis": null},
           "y": {"datum": 1.245, "type": "quantitative", "scale": {"domain": [-0.19, 1.578], "range": [227, 8], "nice": false, "zero": false}, "axis": null},
           "text": {"field": "letter"}}}
      ]
    },
    {
      "width": 703, "height": 359,
      "resolve": {"scale": {"x": "independent", "y": "independent"}},
      "layer": [
        {"data": {"values": [{}]},
         "mark": {"type": "rect", "fill": "#f0f0f0", "stroke": "#8c8c8c", "strokeWidth": 1.5},
         "encoding": {
           "x": {"datum": -1, "type": "quantitative", "scale": {"type": "linear", "domain": [-1, 9], "range": [96, 661], "nice": false, "zero": false}, "axis": null},
           "x2": {"datum": 9},
           "y": {"datum": 0, "type": "quantitative", "scale": {"domain": [0, 1.674], "range": [228, 7], "nice": false, "zero": false}, "axis": null},
           "y2": {"datum": 1.674}}},
        {"data": {"name": "expr"},
         "transform": [{"filter": {"field": "panel", "equal": "H"}}],
         "mark": {"type": "bar", "width": 16, "fill": "#d6d29c", "stroke": "#58584a", "strokeWidth": 1.2},
         "encoding": {
           "x": {"field": "group", "type": "nominal", "sort": ["Normal", "Leukemia untreated", "Leukemia + GRAVIOLA NANO-composite only", "Leukemia + laser", "Leukemia + laser + GRAVIOLA NANO-composite", "Leukemia + ultrasound", "Leukemia + ultrasound + GRAVIOLA NANO-composite", "Leukemia + laser + ultrasound", "Leukemia + laser + ultrasound + GRAVIOLA NANO-composite"], "scale": {"type": "point", "padding": 1, "range": [96, 661]}, "axis": {"orient": "bottom", "title": null, "offset": -131, "labelExpr": "split(replace(datum.label, '+ GRAVIOLA', '+|GRAVIOLA'), '|')"}},
           "y": {"field": "lo", "type": "quantitative", "scale": {"domain": [0, 1.674], "range": [228, 7], "nice": false, "zero": false}, "axis": {"orient": "left", "title": "Mean Bcl2 relative gene expression", "offset": -96, "values": [0, 0.5, 1, 1.5], "format": ".2f"}},
           "y2": {"field": "hi"}}},
        {"data": {"name": "expr"},
         "transform": [{"filter": {"field": "panel", "equal": "H"}}],
         "mark": {"type": "line", "interpolate": "cardinal", "color": "#505050", "strokeWidth": 1.2},
         "encoding": {
           "x": {"field": "group", "type": "nominal", "sort": ["Normal", "Leukemia untreated", "Leukemia + GRAVIOLA NANO-composite only", "Leukemia + laser", "Leukemia + laser + GRAVIOLA NANO-composite", "Leukemia + ultrasound", "Leukemia + ultrasound + GRAVIOLA NANO-composite", "Leukemia + laser + ultrasound", "Leukemia + laser + ultrasound + GRAVIOLA NANO-composite"], "scale": {"type": "point", "padding": 1, "range": [96, 661]}, "axis": null},
           "y": {"field": "mean", "type": "quantitative", "scale": {"domain": [0, 1.674], "range": [228, 7], "nice": false, "zero": false}, "axis": null}}},
        {"data": {"name": "expr"},
         "transform": [{"filter": {"field": "panel", "equal": "H"}}],
         "mark": {"type": "point", "shape": "circle", "filled": false, "size": 34, "color": "#4a4a3a", "strokeWidth": 1},
         "encoding": {
           "x": {"field": "group", "type": "nominal", "sort": ["Normal", "Leukemia untreated", "Leukemia + GRAVIOLA NANO-composite only", "Leukemia + laser", "Leukemia + laser + GRAVIOLA NANO-composite", "Leukemia + ultrasound", "Leukemia + ultrasound + GRAVIOLA NANO-composite", "Leukemia + laser + ultrasound", "Leukemia + laser + ultrasound + GRAVIOLA NANO-composite"], "scale": {"type": "point", "padding": 1, "range": [96, 661]}, "axis": null},
           "y": {"field": "mean", "type": "quantitative", "scale": {"domain": [0, 1.674], "range": [228, 7], "nice": false, "zero": false}, "axis": null}}},
        {"data": {"values": [{"letter": "H"}]},
         "mark": {"type": "rect", "fill": "white", "stroke": "black", "strokeWidth": 2},
         "encoding": {
           "x": {"datum": -0.752, "type": "quantitative", "scale": {"type": "linear", "domain": [-1, 9], "range": [96, 661], "nice": false, "zero": false}, "axis": null},
           "x2": {"datum": 0.416},
           "y": {"datum": 1.576, "type": "quantitative", "scale": {"domain": [0, 1.674], "range": [228, 7], "nice": false, "zero": false}, "axis": null},
           "y2": {"datum": 1.152}}},
        {"data": {"values": [{"letter": "H"}]},
         "mark": {"type": "text", "font": "Lato", "fontSize": 23, "color": "black", "align": "center", "baseline": "middle"},
         "encoding": {
           "x": {"datum": -0.168, "type": "quantitative", "scale": {"type": "linear", "domain": [-1, 9], "range": [96, 661], "nice": false, "zero": false}, "axis": null},
           "y": {"datum": 1.364, "type": "quantitative", "scale": {"domain": [0, 1.674], "range": [228, 7], "nice": false, "zero": false}, "axis": null},
           "text": {"field": "letter"}}}
      ]
    }
  ]
}
